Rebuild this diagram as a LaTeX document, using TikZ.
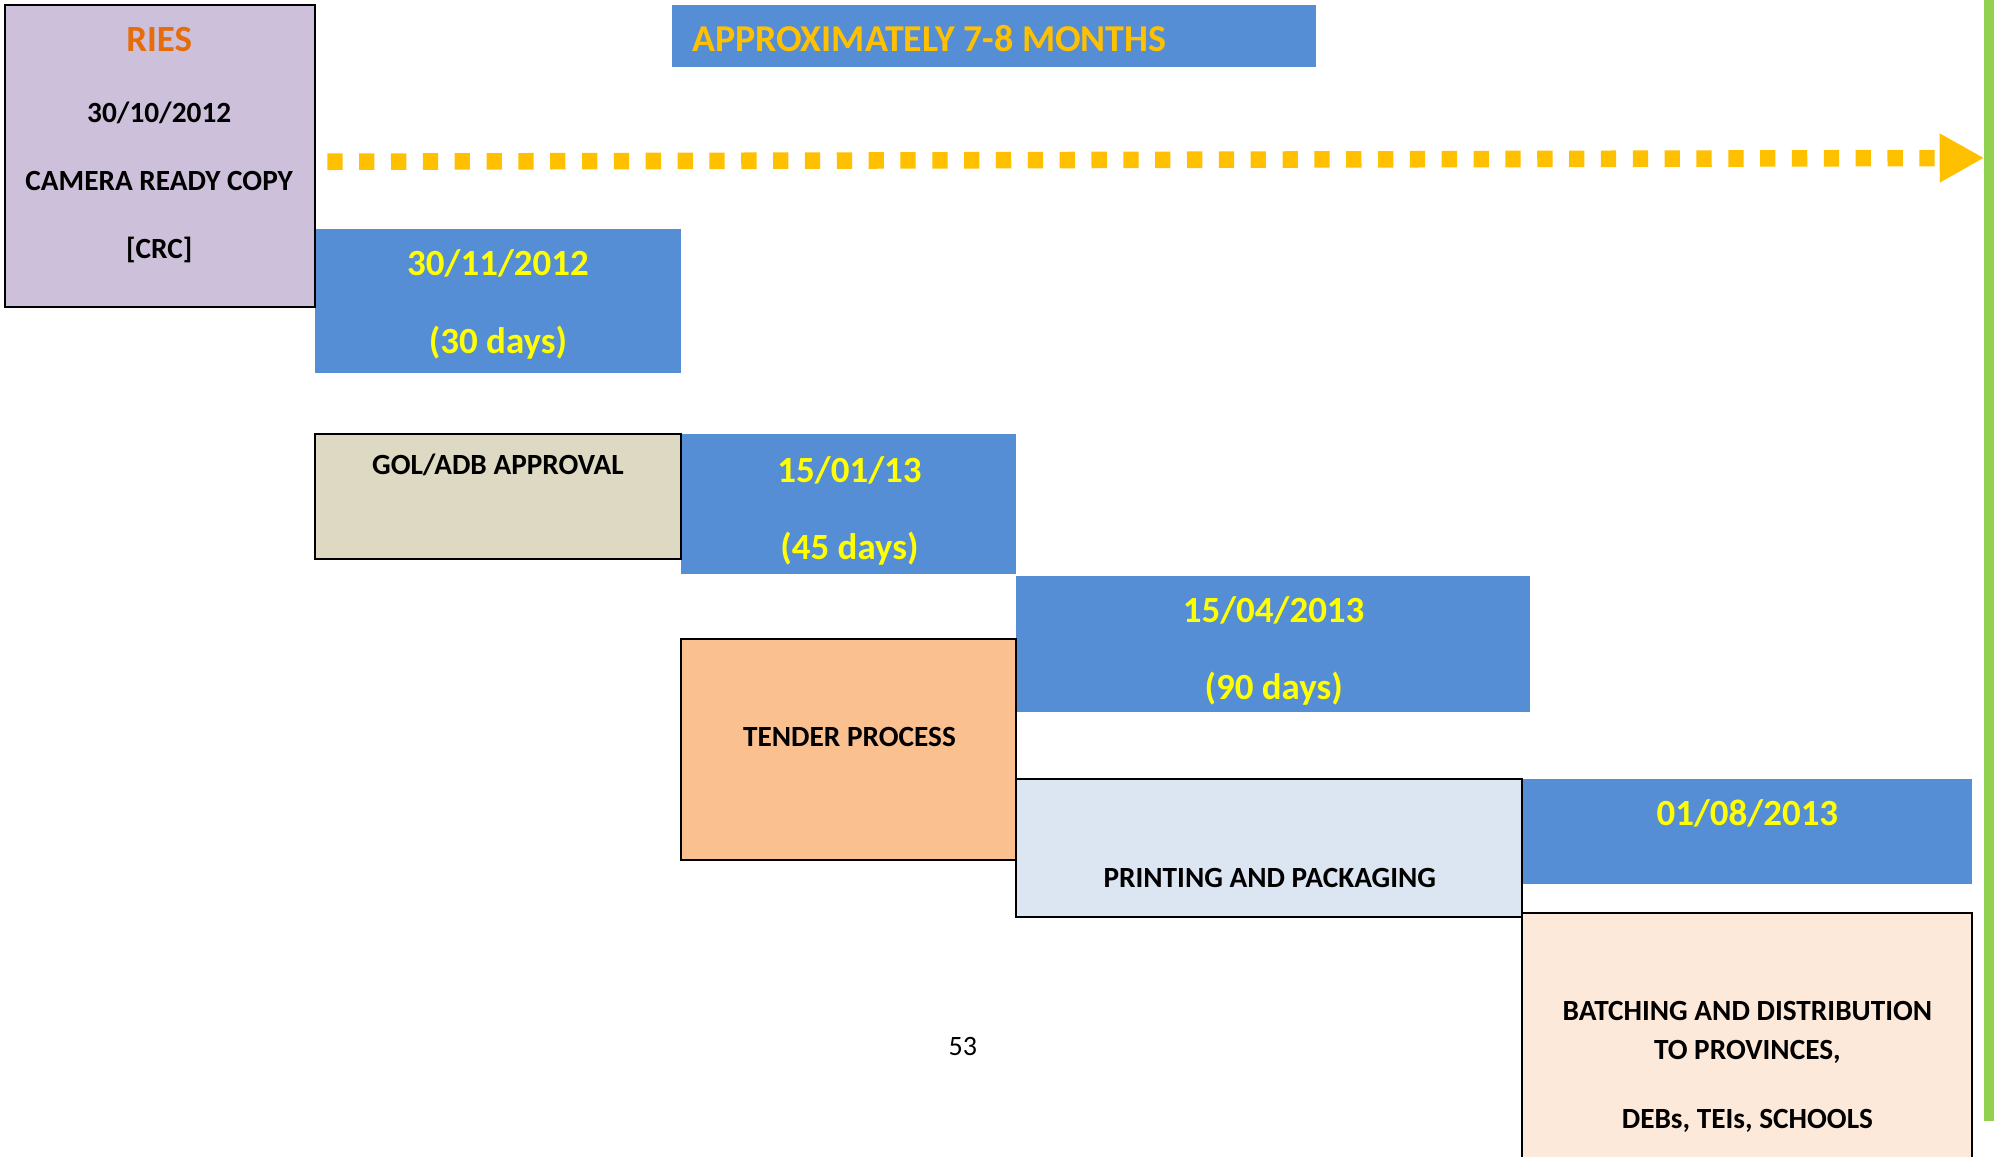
\documentclass[tikz,border=0pt]{standalone}
\usepackage{fontspec}
\setmainfont{Carlito}
\usetikzlibrary{arrows.meta}
\definecolor{RiesLilac}{RGB}{204,192,218}
\definecolor{PlanBlue}{RGB}{85,142,213}
\definecolor{PlanGold}{RGB}{255,192,0}
\definecolor{PlanYellow}{RGB}{255,255,0}
\definecolor{PlanOrange}{RGB}{228,108,10}
\definecolor{PlanGreen}{RGB}{146,208,80}
\definecolor{GolBeige}{RGB}{221,217,195}
\definecolor{TenderPeach}{RGB}{250,192,144}
\definecolor{PrintBlue}{RGB}{220,230,242}
\definecolor{BatchRose}{RGB}{253,233,217}

\begin{document}
\begin{tikzpicture}[
    x=0.5pt,y=-0.5pt,
    task/.style={draw=black, line width=0.8pt, inner sep=0pt, outer sep=0pt},
    datebar/.style={fill=PlanBlue, inner sep=0pt, outer sep=0pt},
    datetxt/.style={font=\fontsize{14.5}{17}\selectfont\bfseries, text=PlanYellow, inner sep=0pt},
    tasktxt/.style={font=\fontsize{11.5}{14}\selectfont\bfseries, inner sep=0pt},
    timeline/.style={draw=PlanGold, line width=6.5pt, dash pattern=on 6pt off 6.5pt, -{Triangle[length=17.5pt, width=18pt]}}
  ]
    \useasboundingbox (0,0) rectangle (1568,908);
    % bars and boxes
    \node[datebar, minimum width=252.5pt, minimum height=24.5pt] (span) at (780.5,28.5) {};
    \foreach \n/\x/\y/\w/\h in {d1/391/236.5/144/56.5, d2/666.5/396/131.5/55, d3/999.5/505.5/201.5/53.5, d4/1371.5/653/176.5/41} {
      \node[datebar, minimum width=\w pt, minimum height=\h pt] (\n) at (\x,\y) {};
    }
    \node[task, fill=RiesLilac, minimum width=121.5pt, minimum height=118.5pt] (ries) at (125.5,122.5) {};
    \node[task, fill=GolBeige, minimum width=144pt, minimum height=49pt] (gol) at (391,390) {};
    \node[task, fill=TenderPeach, minimum width=131.5pt, minimum height=86.5pt] (tender) at (666.5,588.5) {};
    \node[task, fill=PrintBlue, minimum width=198.5pt, minimum height=54pt] (print) at (996.5,666) {};
    \node[task, fill=BatchRose, minimum width=176.5pt, minimum height=100pt] (batch) at (1371.5,817) {};
    % texts
    \node[tasktxt, font=\fontsize{14.5}{17}\selectfont\bfseries, text=PlanOrange] (ries-t) at (125,31) {RIES};
    \node[datetxt, font=\fontsize{14.9}{17}\selectfont\bfseries, text=PlanGold, anchor=west] (span-t) at (543,30) {APPROXIMATELY 7-8 MONTHS};
    \foreach \n/\x/\y/\lab in {ries-a/125/89/{30/10/2012}, ries-b/125/142/CAMERA READY COPY, ries-c/125/196/[CRC],
        gol-t/391/365/{GOL/ADB APPROVAL}, tender-t/667/579/TENDER PROCESS, print-t/997/689/PRINTING AND PACKAGING,
        batch-a/1372/794/BATCHING AND DISTRIBUTION, batch-b/1372/826/{TO PROVINCES,}, batch-c/1372/880/{DEBs, TEIs, SCHOOLS}} {
      \node[tasktxt] (\n) at (\x,\y) {\lab};
    }
    \foreach \n/\x/\y/\lab in {d1-a/391/207/{30/11/2012}, d1-b/391/269/(30 days), d2-a/667/369/{15/01/13}, d2-b/667/431/(45 days),
        d3-a/1000/479/{15/04/2013}, d3-b/1000/541/(90 days), d4-a/1372/639/{01/08/2013}} {
      \node[datetxt] (\n) at (\x,\y) {\lab};
    }
    \node[font=\fontsize{11}{13}\selectfont] (pageno) at (756,822) {53};
    % timeline arrow and end line
    \draw[PlanGreen, line width=4pt] (1562,0) -- (1562,880);
    \coordinate (tl-start) at (257,127);
    \coordinate (tl-end) at (1558,124);
    \draw[timeline] (tl-start) -- (tl-end);
  \end{tikzpicture}
\end{document}
